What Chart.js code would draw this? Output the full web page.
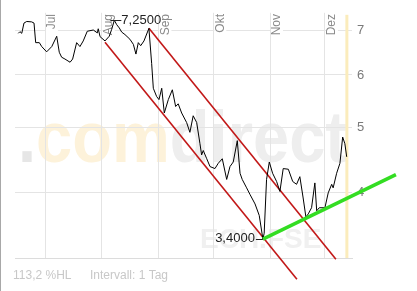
<!DOCTYPE html>
<html>
<head>
<meta charset="utf-8">
<script src="https://cdn.jsdelivr.net/npm/chart.js@4/dist/chart.umd.min.js"></script>
<style>
  html, body { margin: 0; padding: 0; background: #fff; }
  canvas { display: block; }
</style>
</head>
<body>
<canvas id="chart" width="417" height="291"></canvas>
<script>
// --- data (x = calendar day, Jul 1 = 0)
const days = [-14.6,-13.7,-12.7,-11.5,-10.0,-7.3,-6.0,-5.1,-3.1,-1.8,
  0.9,3.7,6.4,7.8,9.1,10.9,13.7,15.1,17.3,19.1,
  20.9,23.1,26.4,28.6,29.1,30.1,32.8,35.1,36.4,37.9,
  39.2,40.6,41.9,43.7,46.4,48.3,49.7,51.0,52.3,54.1,
  56.8,58.3,59.2,61.0,62.3,63.8,65.2,67.4,69.6,71.4,
  72.8,74.7,77.4,79.2,81.0,82.9,84.7,85.6,86.5,88.4,
  90.2,92.9,94.7,96.9,99.3,101.1,102.9,105.1,106.6,107.8,
  110.2,112.0,114.8,117.1,119.1,119.8,121.1,122.6,124.4,126.6,
  128.4,130.2,133.0,135.4,137.5,139.3,141.1,142.6,143.9,145.7,
  147.5,148.5,149.9,153.0,154.8,156.7,157.5,159.4,161.2,162.7,
  163.9,164.9];
const prices = [6.93,6.97,6.93,7.18,7.22,7.21,7.18,6.71,6.71,6.62,
  6.50,6.62,6.86,6.49,6.38,6.34,6.27,6.34,6.71,6.62,
  6.75,6.98,7.01,6.94,7.04,6.85,6.75,6.86,7.02,7.25,
  7.14,7.06,6.96,6.90,6.79,6.67,6.45,6.71,6.64,6.75,
  7.05,6.24,5.73,5.57,5.51,5.73,5.26,5.51,5.70,5.38,
  5.43,5.26,5.09,4.92,5.21,5.09,4.73,4.55,4.62,4.49,
  4.37,4.34,4.42,4.49,4.18,4.37,4.44,4.78,4.27,4.18,
  4.06,3.97,3.84,3.69,3.40,3.47,4.18,4.44,4.27,4.15,
  4.01,4.34,4.33,4.15,4.11,4.22,3.92,3.67,3.71,3.79,
  4.13,3.75,3.79,3.79,3.99,4.11,4.06,4.27,4.42,4.84,
  4.73,4.52];

const monthDays = [0, 31, 62, 92, 123, 153];
const monthLabels = ["Jul", "Aug", "Sep", "Okt", "Nov", "Dez"];
const yTicks = [4, 5, 6, 7];

// trend lines
const channelLowDays = [32.8, 137.7];
const channelLowVals = [6.72, 2.96];
const channelHighDays = [56.8, 159.0];
const channelHighVals = [7.05, 3.17];
const supportDays = [119.1, 191.8];
const supportVals = [3.40, 4.25];

const todayDay = 165;
const footerLeft = "113,2 %HL";
const footerRight = "Intervall: 1 Tag";

const FONT = "'Liberation Sans', Arial, sans-serif";

function pts(xs, ys) { return xs.map((x, i) => ({ x, y: ys[i] })); }
function fmtDE(v) { return v.toFixed(4).replace(".", ","); }

// --- drawing helpers
const deco = {
  id: "deco",
  beforeDraw(chart) {
    const c = chart.ctx;
    c.save();
    c.fillStyle = "#fff";
    c.fillRect(0, 0, chart.width, chart.height);

    // watermark .comdirect
    c.font = "bold 72px " + FONT;
    c.textBaseline = "alphabetic";
    const parts = [[".", "#e6e6e6"], ["com", "#fdf2da"], ["direct", "#eeeeee"]];
    const total = parts.reduce((s, p) => s + c.measureText(p[0]).width, 0);
    c.translate(18, 162);
    c.scale(329 / total, 1);
    let x = 0;
    parts.forEach(([t, col]) => {
      c.fillStyle = col;
      c.fillText(t, x, 0);
      x += c.measureText(t).width;
    });
    c.restore();

    c.save();
    c.font = "bold 28px " + FONT;
    c.fillStyle = "#f0f0f0";
    c.fillText("ECH.FSE", 200, 248);
    c.restore();
  },
  beforeDatasetsDraw(chart) {
    const c = chart.ctx, xs = chart.scales.x, area = chart.chartArea;
    c.save();
    // today marker
    const tx = xs.getPixelForValue(todayDay);
    c.strokeStyle = "#fbecbc";
    c.lineWidth = 3;
    c.beginPath();
    c.moveTo(tx, area.top + 2);
    c.lineTo(tx, area.bottom);
    c.stroke();

    // month labels, rotated, inside the plot
    c.font = "12px " + FONT;
    c.textAlign = "right";
    c.textBaseline = "middle";
    monthDays.forEach((d, i) => {
      const px = xs.getPixelForValue(d);
      c.save();
      c.translate(px + 7, 14);
      c.rotate(-Math.PI / 2);
      const w = c.measureText(monthLabels[i]).width;
      c.fillStyle = "#fff";
      c.fillRect(-w - 2, -6, w + 4, 12);
      c.fillStyle = "#8a8a8a";
      c.fillText(monthLabels[i], 0, 0);
      c.restore();
    });
    c.restore();
  },
  afterDatasetsDraw(chart) {
    const c = chart.ctx, xs = chart.scales.x, ys = chart.scales.y;
    const hi = prices.indexOf(Math.max(...prices));
    const lo = prices.indexOf(Math.min(...prices));
    c.save();
    c.font = "13px " + FONT;
    c.fillStyle = "#222";
    c.strokeStyle = "#222";
    c.lineWidth = 1;
    c.textBaseline = "middle";

    let px = xs.getPixelForValue(days[hi]), py = Math.round(ys.getPixelForValue(prices[hi])) + 0.5;
    c.beginPath(); c.moveTo(px - 4, py); c.lineTo(px + 7, py); c.stroke();
    c.textAlign = "left";
    c.fillText(fmtDE(prices[hi]), px + 7, py);

    px = xs.getPixelForValue(days[lo]); py = Math.round(ys.getPixelForValue(prices[lo])) + 0.5;
    c.beginPath(); c.moveTo(px - 7, py); c.lineTo(px, py); c.stroke();
    c.textAlign = "right";
    c.fillText(fmtDE(prices[lo]), px - 8, py - 1);
    c.restore();
  },
  afterDraw(chart) {
    const c = chart.ctx;
    c.save();
    c.font = "12px " + FONT;
    c.fillStyle = "#c8c8c8";
    c.textBaseline = "middle";
    c.fillText(footerLeft, 13, 276);
    c.fillText(footerRight, 90, 276);
    c.strokeStyle = "#a8a8a8";
    c.beginPath(); c.moveTo(0.5, 0); c.lineTo(0.5, chart.height); c.stroke();
    c.restore();
  }
};

new Chart(document.getElementById("chart"), {
  type: "line",
  data: {
    datasets: [
      { data: pts(supportDays, supportVals), borderColor: "#33dd22", borderWidth: 3.5, clip: false },
      { data: pts(days, prices), borderColor: "#000", borderWidth: 1 },
      { data: pts(channelLowDays, channelLowVals), borderColor: "#c21818", borderWidth: 1.6, clip: false },
      { data: pts(channelHighDays, channelHighVals), borderColor: "#c21818", borderWidth: 1.6, clip: false }
    ]
  },
  options: {
    responsive: false,
    animation: false,
    devicePixelRatio: 1,
    elements: { point: { radius: 0 }, line: { tension: 0, fill: false } },
    layout: { padding: { left: 15, top: 8, right: 0, bottom: 33 } },
    plugins: { legend: { display: false }, tooltip: { enabled: false } },
    scales: {
      x: {
        type: "linear",
        min: -16.4,
        max: 167.8,
        afterBuildTicks: s => { s.ticks = monthDays.map(v => ({ value: v })); },
        ticks: { display: false },
        grid: { color: "#e4e4e4", drawTicks: false },
        border: { display: true, color: "#dcdcdc" }
      },
      y: {
        type: "logarithmic",
        position: "right",
        min: 3.185,
        max: 7.44,
        afterBuildTicks: s => { s.ticks = yTicks.map(v => ({ value: v, major: true })); },
        afterFit: s => { s.width = 65; },
        ticks: { color: "#7a7a7a", font: { size: 13, family: FONT }, padding: 5, callback: v => String(v) },
        grid: { color: "#e4e4e4", drawTicks: false },
        border: { display: false }
      }
    }
  },
  plugins: [deco]
});
</script>
</body>
</html>
